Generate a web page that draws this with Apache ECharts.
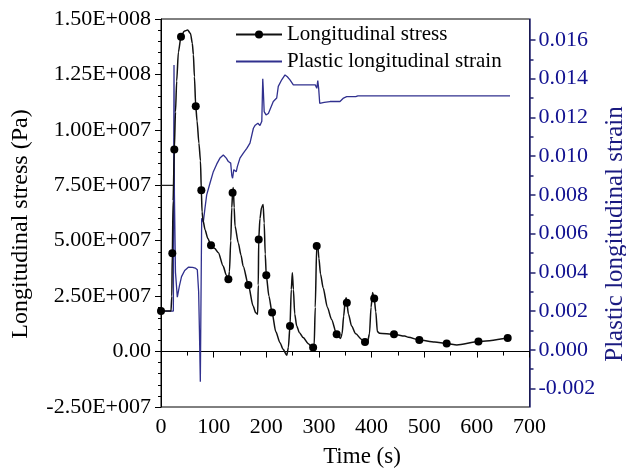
<!DOCTYPE html>
<html>
<head>
<meta charset="utf-8">
<script src="https://cdn.jsdelivr.net/npm/echarts@6/dist/echarts.min.js"></script>
<style>html,body{margin:0;padding:0;background:#fff;}#c{width:626px;height:470px;}</style>
</head>
<body>
<div id="c"></div>
<script>
// ---- data ----
const stressTime = [0,19,20.5,21.5,23,25.3,27.5,29.8,33,38,44,50.6,56,59.5,61.5,63.5,66,68.5,72,75,76.6,78,80,83.6,89,95,102,109,118,124,128,130,132.5,134.5,136,137.3,139,140.6,146.8,152,156,166,175,180,183.6,184.8,185.6,188,191,194,196,198,200,205,211,218,226,232,239,242,245,247.5,249.5,251.5,254,257.8,263,270,280,286,289,291,293,295.8,297.6,300,303,308,316,324,333.7,341,344,347,350,351.8,353,356,362,370,381,387.5,392,396,399,402,405,408,411,415,442.6,463,470,490.7,520,542.7,562,603,658.6];
const stressValue = [18.3e6,18.3e6,25e6,44.3e6,68e6,91.1e6,108e6,122e6,135e6,142e6,144.5e6,145e6,143.5e6,139e6,134e6,124e6,110.6e6,104e6,94e6,86e6,72.8e6,63e6,59e6,55e6,51e6,47.9e6,46.5e6,44.6e6,38.6e6,34.5e6,32.6e6,36e6,50e6,65e6,71.6e6,74e6,65e6,56.6e6,49e6,43.5e6,38.6e6,30e6,20.5e6,17.5e6,16.8e6,30e6,50.6e6,60e6,65e6,66.3e6,58e6,44e6,34.4e6,25e6,17.6e6,9e6,4e6,1e6,-1.7e6,2e6,11.5e6,28e6,35.6e6,28e6,17e6,11.5e6,8.5e6,6.3e6,3.5e6,2.3e6,1.8e6,3e6,20e6,47.6e6,48.3e6,42e6,35e6,28.8e6,20e6,14.5e6,7.8e6,5.9e6,8e6,16e6,23e6,24.3e6,22e6,17e6,11.5e6,8e6,5.5e6,4.3e6,4e6,8e6,20e6,26.6e6,23.9e6,18e6,9e6,8.3e6,7.8e6,7.0e6,6.5e6,5.2e6,4.3e6,3.6e6,3.0e6,4.5e6,6.1e6];
const stressMarkerTimes = [0,21.5,25.3,38,66,76.6,95,128,136,166,185.6,200,211,245,289,295.8,333.7,353,387.5,405,442.6,490.7,542.7,603,658.6];
const strainTime = [0,23.5,24.2,24.7,25.5,27.5,31,35,39,45,52,60,65,69,71.5,73,74.7,75.8,77.3,80.4,83.5,86.8,93,99.4,106,112,118.4,124,128,132.4,134.5,136,138.3,140.6,143,145,150,156.4,163,169,175.5,179,184,188,191.5,193.3,194.2,196,199.5,204,213.3,219.8,222.8,229.3,235.6,240,245,251.4,270,293,296,297.8,299.5,301.5,310,321,340,346.7,352.7,370,374,663];
const strainValue = [0.0020,0.0020,0.0100,0.0147,0.0080,0.0040,0.00272,0.0033,0.00378,0.0041,0.00427,0.00426,0.00422,0.00413,0.0030,0.0010,-0.00164,0.0020,0.0068,0.0066,0.0073,0.0080,0.0086,0.0092,0.0096,0.0099,0.01006,0.0099,0.00972,0.00964,0.0090,0.00886,0.0093,0.00938,0.0092,0.00946,0.0099,0.01015,0.0104,0.01067,0.01144,0.0116,0.0117,0.01158,0.0118,0.0140,0.0135,0.0123,0.01213,0.0122,0.01282,0.0130,0.0136,0.01394,0.01419,0.0141,0.01394,0.01368,0.01368,0.01368,0.0135,0.0139,0.0135,0.01273,0.01278,0.01282,0.01282,0.01300,0.01307,0.01307,0.01311,0.01311];
const extraSegmentTime = [0,23];
const extraSegmentValue = [75e6,75e6];
const leftTickLabels = ["-2.50E+007","0.00","2.50E+007","5.00E+007","7.50E+007","1.00E+007","1.25E+008","1.50E+008"];
const rightTickValues = [-0.002,0,0.002,0.004,0.006,0.008,0.010,0.012,0.014,0.016];
const rightTickLabels = ["-0.002","0.000","0.002","0.004","0.006","0.008","0.010","0.012","0.014","0.016"];
const rightMinorTickValues = [-0.001,0.001,0.003,0.005,0.007,0.009,0.011,0.013,0.015];
const xTickLabels = ["0","100","200","300","400","500","600","700"];

const FONT = "'Liberation Serif','Times New Roman',serif";
const NAVY = '#22226e';
const LBLUE = '#101090';

const stressData = stressTime.map((t, i) => {
  const isMarker = stressMarkerTimes.indexOf(t) >= 0;
  return isMarker ? { value: [t, stressValue[i]] } : { value: [t, stressValue[i]], symbol: 'none' };
});
const strainData = strainTime.map((t, i) => [t, strainValue[i]]);
const extraData = extraSegmentTime.map((t, i) => [t, extraSegmentValue[i]]);

const chart = echarts.init(document.getElementById('c'), null, { renderer: 'canvas' });
const yMin = -25e6, yInt = 25e6;
chart.setOption({
  animation: false,
  backgroundColor: '#fff',
  grid: { left: 161, right: 96.5, top: 19, bottom: 63, show: true, borderColor: '#000', borderWidth: 1, backgroundColor: 'transparent' },
  legend: {
    data: [
      { name: 'Longitudinal stress' },
      { name: 'Plastic longitudinal strain', itemStyle: { color: 'rgba(0,0,0,0)', borderWidth: 0, opacity: 0 } }
    ],
    orient: 'vertical', left: 230, top: 19,
    itemWidth: 46, itemHeight: 10, itemGap: 6,
    textStyle: { fontFamily: FONT, fontSize: 21, color: '#000' }
  },
  xAxis: {
    type: 'value', min: 0, max: 700, interval: 100,
    axisLine: { lineStyle: { color: '#000', width: 1 } },
    axisTick: { show: true, inside: false, length: 6, lineStyle: { color: '#000' } },
    minorTick: { show: true, splitNumber: 2, length: 4, lineStyle: { color: '#000' } },
    splitLine: { show: false },
    axisLabel: { margin: 9, fontFamily: FONT, fontSize: 22, color: '#000',
      formatter: v => xTickLabels[Math.round(v / 100)] }
  },
  yAxis: [
    {
      type: 'value', min: yMin, max: 150e6, interval: yInt, position: 'left',
      axisLine: { show: true, lineStyle: { color: '#000', width: 1 } },
      axisTick: { show: true, inside: false, length: 6, lineStyle: { color: '#000' } },
      minorTick: { show: true, splitNumber: 5, length: 3, lineStyle: { color: '#000' } },
      splitLine: { show: false },
      axisLabel: { margin: 10, fontFamily: FONT, fontSize: 22, color: '#000',
        formatter: v => leftTickLabels[Math.round((v - yMin) / yInt)] }
    },
    {
      type: 'value', min: -0.00295, max: 0.01708, position: 'right',
      axisLine: { show: true, lineStyle: { color: NAVY, width: 1.5 } },
      axisTick: { show: true, inside: false, length: 6, customValues: rightTickValues, lineStyle: { color: NAVY, width: 1.5 } },
      splitLine: { show: false },
      axisLabel: { margin: 9, fontFamily: FONT, fontSize: 22, color: LBLUE, customValues: rightTickValues,
        formatter: v => rightTickLabels[rightTickValues.findIndex(r => Math.abs(r - v) < 1e-9)] }
    },
    {
      type: 'value', min: -0.00295, max: 0.01708, position: 'right',
      axisLine: { show: false },
      axisTick: { show: true, inside: false, length: 4, customValues: rightMinorTickValues, lineStyle: { color: NAVY, width: 1.5 } },
      splitLine: { show: false },
      axisLabel: { show: false }
    }
  ],
  series: [
    {
      name: 'Longitudinal stress', type: 'line', yAxisIndex: 0, data: stressData,
      symbol: 'circle', symbolSize: 8, showSymbol: true, showAllSymbol: true,
      smooth: 0.25, smoothMonotone: 'x',
      lineStyle: { color: '#111', width: 1.5 }, itemStyle: { color: '#000' }, z: 3
    },
    {
      name: 'Plastic longitudinal strain', type: 'line', yAxisIndex: 1, data: strainData,
      symbol: 'none', showSymbol: false,
      lineStyle: { color: '#30308e', width: 1.3 }, itemStyle: { color: '#30308e' }, z: 2
    },
    {
      name: 'segment', type: 'line', yAxisIndex: 0, data: extraData,
      symbol: 'none', lineStyle: { color: '#222', width: 1.2 }, silent: true
    }
  ],
  graphic: [
    { type: 'text', x: 21, y: 224, rotation: Math.PI / 2,
      style: { text: 'Longitudinal stress (Pa)', font: '24px ' + FONT, fill: '#000', textAlign: 'center', textVerticalAlign: 'middle', align: 'center', verticalAlign: 'middle' } },
    { type: 'text', x: 615, y: 234, rotation: Math.PI / 2,
      style: { text: 'Plastic longitudinal strain', font: '25px ' + FONT, fill: '#1a1a80', textAlign: 'center', textVerticalAlign: 'middle', align: 'center', verticalAlign: 'middle' } },
    { type: 'text', x: 362, y: 457,
      style: { text: 'Time (s)', font: '23px ' + FONT, fill: '#000', textAlign: 'center', textVerticalAlign: 'middle', align: 'center', verticalAlign: 'middle' } }
  ]
});
</script>
</body>
</html>
